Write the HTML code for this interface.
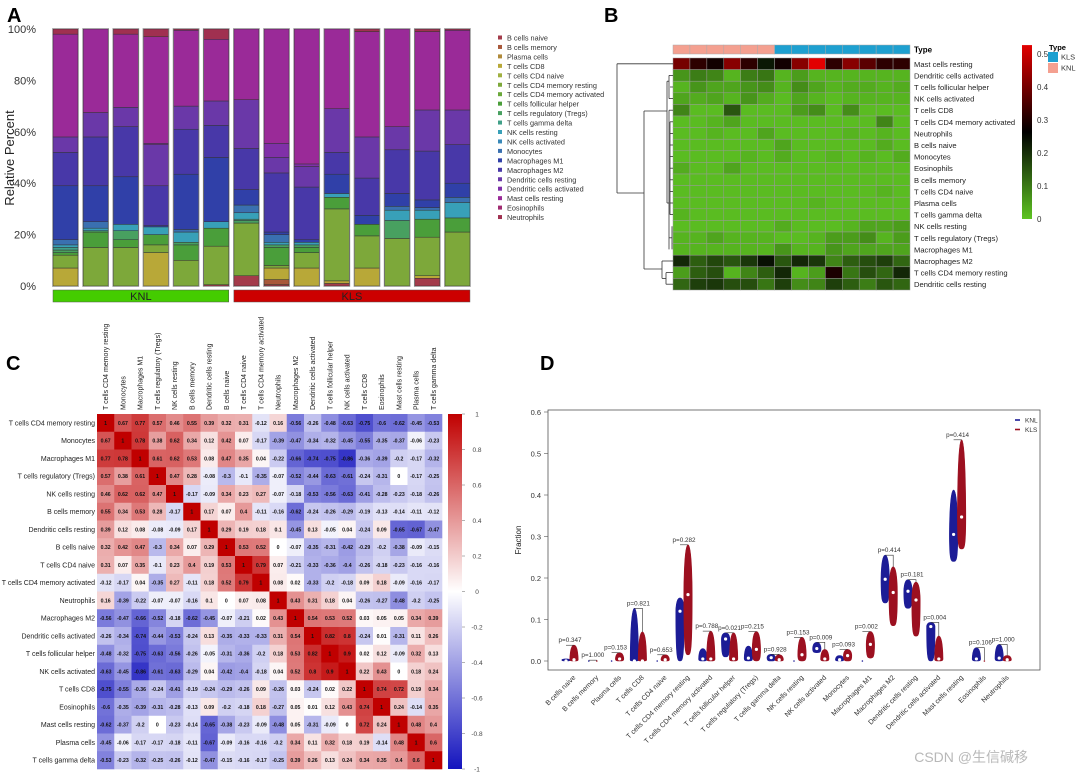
<!DOCTYPE html>
<html><head><meta charset="utf-8"><style>
html,body{margin:0;padding:0;background:#fff;width:1080px;height:774px;overflow:hidden}
svg{display:block;font-family:"Liberation Sans","Noto Sans CJK SC",sans-serif}
</style></head><body>
<svg id="fig" width="1080" height="774" viewBox="0 0 1080 774"></svg>
<script>
// ---------- Panel A data ----------
const cellTypes=["B cells naive","B cells memory","Plasma cells","T cells CD8","T cells CD4 naive","T cells CD4 memory resting","T cells CD4 memory activated","T cells follicular helper","T cells regulatory (Tregs)","T cells gamma delta","NK cells resting","NK cells activated","Monocytes","Macrophages M1","Macrophages M2","Dendritic cells resting","Dendritic cells activated","Mast cells resting","Eosinophils","Neutrophils"];
const cellColors=["#a33b4a","#a8583a","#b08a3a","#b8a838","#a0b040","#7da83a","#6aa83a","#4a9e3a","#48a060","#40a088","#38a0b8","#3888b8","#3a70b0","#3040a8","#4838a8","#6a38a8","#8030a8","#9a2a98","#a02a70","#a03050"];
const aBnaive=[0,0,0,0,0,0.5,4,0.5,0,1,0,0,3,0];
const aBmem=[0,0,0,0,0,0,0,2,0,0,0,0,0,0];
const aPlasma=[0,0,0,0,0,0,0,0,0,0,0,0,0,0];
const aCD8=[7,0,0,13,0,0,0,4.5,7,1,7,0,1,0];
const aCD4n=[0,0,0,0,0,0,0,0,0,0,0,0,0,0];
const aCD4mr=[5,15,15,3,10,15,20.5,1,6,28,12.5,18.5,15,21];
const aCD4ma=[0,0,0,0,0,0,0,0,0,0,0,0,0,0];
const aTfh=[1,6,3,4,6,7,0,7,2,4.5,4.5,0,7,5.5];
const aTregs=[1,0.5,3.5,0,1,0,1,1,1,0,0,7,0,0];
const aGD=[1,0,0,0,0,0,0.5,0,0,0,0,0,0,0];
const aNKr=[1,1,2.5,3,4,2.5,2.5,1,1,1.5,0,4,3.5,6];
const aNKa=[0,0,0,0,0,0,0,0,0,0,0,0,0,0];
const aMono=[2,2.5,0,0,1,0,3,3,0,0,0,1.5,1,2];
const aM1=[21,14,18.5,0.5,21.5,25,6,1,1,7.5,3.5,5,3,5.5];
const aM2=[13,19,19.5,15.5,17.5,12.5,16,23,20.5,8.5,14.5,17,19,15];
const aDCr=[6,9.5,7.5,16,9,9.5,19,6,8,17,16,9,16,13.5];
const aDCa=[0,0,0,0.5,0,0,0,5.5,1,0,0,0,0,0];
const aMast=[40,32.5,28.5,41.5,29.5,24,27.5,44.5,52.5,31,41,38,30.5,31];
const aEos=[0,0,0,0,0,0,0,0,0,0,0,0,0,0];
const aNeut=[2,0,2,3,0.5,4,0,0,0,0,1,0,1,0.5];
const aSeries=[aBnaive,aBmem,aPlasma,aCD8,aCD4n,aCD4mr,aCD4ma,aTfh,aTregs,aGD,aNKr,aNKa,aMono,aM1,aM2,aDCr,aDCa,aMast,aEos,aNeut];
const aTicks=[0,20,40,60,80,100];
const aGroups=["KNL","KNL","KNL","KNL","KNL","KNL","KLS","KLS","KLS","KLS","KLS","KLS","KLS","KLS"];

// ---------- Panel B data ----------
const hmRows=["Mast cells resting","Dendritic cells activated","T cells follicular helper","NK cells activated","T cells CD8","T cells CD4 memory activated","Neutrophils","B cells naive","Monocytes","Eosinophils","B cells memory","T cells CD4 naive","Plasma cells","T cells gamma delta","NK cells resting","T cells regulatory (Tregs)","Macrophages M1","Macrophages M2","T cells CD4 memory resting","Dendritic cells resting"];
const hmTypes=["KNL","KNL","KNL","KNL","KNL","KNL","KLS","KLS","KLS","KLS","KLS","KLS","KLS","KLS"];
const hMast=[0.38,0.3,0.27,0.4,0.3,0.22,0.27,0.4,0.5,0.3,0.4,0.35,0.3,0.3];
const hDCa=[0.06,0.09,0.08,0.02,0.09,0.1,0.02,0.05,0.02,0.02,0.02,0.02,0.02,0.02];
const hTfh=[0.02,0.06,0.04,0.04,0.06,0.07,0.02,0.07,0.04,0.02,0.03,0.03,0.02,0.03];
const hNKa=[0.04,0.03,0.04,0.02,0.06,0.03,0.01,0.04,0.02,0.01,0.02,0.02,0.02,0.02];
const hCD8=[0.08,0.01,0.01,0.14,0.01,0.01,0.01,0.05,0.07,0.01,0.07,0.01,0.01,0.01];
const hCD4ma=[0.01,0.01,0.02,0.04,0.01,0.01,0.01,0.01,0.01,0.01,0.01,0.01,0.08,0.01];
const hNeut=[0.01,0.01,0.02,0.01,0.01,0.04,0.01,0.01,0.01,0.01,0.02,0.01,0.02,0.01];
const hBn=[0.01,0.01,0.01,0.01,0.01,0.01,0.04,0.01,0.01,0.01,0.01,0.01,0.03,0.01];
const hMono=[0.01,0.01,0.01,0.01,0.02,0.01,0.03,0.01,0.01,0.02,0.01,0.02,0.01,0.03];
const hEos=[0.03,0.01,0.01,0.04,0.01,0.01,0.01,0.01,0.01,0.01,0.01,0.01,0.01,0.01];
const hBm=[0.01,0.01,0.01,0.01,0.01,0.01,0.01,0.01,0.01,0.01,0.01,0.01,0.01,0.01];
const hCD4n=[0.01,0.01,0.01,0.01,0.01,0.01,0.01,0.01,0.01,0.01,0.01,0.01,0.02,0.01];
const hPlasma=[0.01,0.01,0.01,0.01,0.01,0.01,0.01,0.01,0.02,0.01,0.01,0.01,0.01,0.01];
const hGD=[0.02,0.01,0.01,0.01,0.01,0.01,0.01,0.01,0.01,0.01,0.01,0.01,0.01,0.01];
const hNKr=[0.01,0.01,0.01,0.01,0.01,0.01,0.03,0.01,0.01,0.01,0.02,0.04,0.04,0.05];
const hTregs=[0.02,0.02,0.04,0.02,0.02,0.02,0.01,0.01,0.02,0.05,0.05,0.07,0.02,0.05];
const hM1=[0.02,0.02,0.02,0.02,0.02,0.02,0.06,0.02,0.02,0.06,0.04,0.04,0.04,0.04];
const hM2=[0.2,0.13,0.16,0.14,0.18,0.23,0.14,0.2,0.18,0.08,0.13,0.15,0.17,0.12];
const hCD4mr=[0.05,0.13,0.15,0.02,0.08,0.13,0.2,0.02,0.05,0.28,0.1,0.15,0.12,0.2];
const hDCr=[0.12,0.17,0.18,0.15,0.15,0.1,0.17,0.07,0.08,0.17,0.13,0.09,0.14,0.12];
const hmValues=[hMast,hDCa,hTfh,hNKa,hCD8,hCD4ma,hNeut,hBn,hMono,hEos,hBm,hCD4n,hPlasma,hGD,hNKr,hTregs,hM1,hM2,hCD4mr,hDCr];
const hmTicks=[0,0.1,0.2,0.3,0.4,0.5];

// ---------- Panel C data ----------
const corrLabels=["T cells CD4 memory resting","Monocytes","Macrophages M1","T cells regulatory (Tregs)","NK cells resting","B cells memory","Dendritic cells resting","B cells naive","T cells CD4 naive","T cells CD4 memory activated","Neutrophils","Macrophages M2","Dendritic cells activated","T cells follicular helper","NK cells activated","T cells CD8","Eosinophils","Mast cells resting","Plasma cells","T cells gamma delta"];
const corr=[
[1,0.67,0.77,0.57,0.46,0.55,0.39,0.32,0.31,-0.12,0.16,-0.56,-0.26,-0.48,-0.63,-0.75,-0.6,-0.62,-0.45,-0.53],
[0.67,1,0.78,0.38,0.62,0.34,0.12,0.42,0.07,-0.17,-0.39,-0.47,-0.34,-0.32,-0.45,-0.55,-0.35,-0.37,-0.06,-0.23],
[0.77,0.78,1,0.61,0.62,0.53,0.08,0.47,0.35,0.04,-0.22,-0.66,-0.74,-0.75,-0.86,-0.36,-0.39,-0.2,-0.17,-0.32],
[0.57,0.38,0.61,1,0.47,0.28,-0.08,-0.3,-0.1,-0.35,-0.07,-0.52,-0.44,-0.63,-0.61,-0.24,-0.31,0,-0.17,-0.25],
[0.46,0.62,0.62,0.47,1,-0.17,-0.09,0.34,0.23,0.27,-0.07,-0.18,-0.53,-0.56,-0.63,-0.41,-0.28,-0.23,-0.18,-0.26],
[0.55,0.34,0.53,0.28,-0.17,1,0.17,0.07,0.4,-0.11,-0.16,-0.62,-0.24,-0.26,-0.29,-0.19,-0.13,-0.14,-0.11,-0.12],
[0.39,0.12,0.08,-0.08,-0.09,0.17,1,0.29,0.19,0.18,0.1,-0.45,0.13,-0.05,0.04,-0.24,0.09,-0.65,-0.67,-0.47],
[0.32,0.42,0.47,-0.3,0.34,0.07,0.29,1,0.53,0.52,0,-0.07,-0.35,-0.31,-0.42,-0.29,-0.2,-0.38,-0.09,-0.15],
[0.31,0.07,0.35,-0.1,0.23,0.4,0.19,0.53,1,0.79,0.07,-0.21,-0.33,-0.36,-0.4,-0.26,-0.18,-0.23,-0.16,-0.16],
[-0.12,-0.17,0.04,-0.35,0.27,-0.11,0.18,0.52,0.79,1,0.08,0.02,-0.33,-0.2,-0.18,0.09,0.18,-0.09,-0.16,-0.17],
[0.16,-0.39,-0.22,-0.07,-0.07,-0.16,0.1,0,0.07,0.08,1,0.43,0.31,0.18,0.04,-0.26,-0.27,-0.48,-0.2,-0.25],
[-0.56,-0.47,-0.66,-0.52,-0.18,-0.62,-0.45,-0.07,-0.21,0.02,0.43,1,0.54,0.53,0.52,0.03,0.05,0.05,0.34,0.39],
[-0.26,-0.34,-0.74,-0.44,-0.53,-0.24,0.13,-0.35,-0.33,-0.33,0.31,0.54,1,0.82,0.8,-0.24,0.01,-0.31,0.11,0.26],
[-0.48,-0.32,-0.75,-0.63,-0.56,-0.26,-0.05,-0.31,-0.36,-0.2,0.18,0.53,0.82,1,0.9,0.02,0.12,-0.09,0.32,0.13],
[-0.63,-0.45,-0.86,-0.61,-0.63,-0.29,0.04,-0.42,-0.4,-0.18,0.04,0.52,0.8,0.9,1,0.22,0.43,0,0.18,0.24],
[-0.75,-0.55,-0.36,-0.24,-0.41,-0.19,-0.24,-0.29,-0.26,0.09,-0.26,0.03,-0.24,0.02,0.22,1,0.74,0.72,0.19,0.34],
[-0.6,-0.35,-0.39,-0.31,-0.28,-0.13,0.09,-0.2,-0.18,0.18,-0.27,0.05,0.01,0.12,0.43,0.74,1,0.24,-0.14,0.35],
[-0.62,-0.37,-0.2,0,-0.23,-0.14,-0.65,-0.38,-0.23,-0.09,-0.48,0.05,-0.31,-0.09,0,0.72,0.24,1,0.48,0.4],
[-0.45,-0.06,-0.17,-0.17,-0.18,-0.11,-0.67,-0.09,-0.16,-0.16,-0.2,0.34,0.11,0.32,0.18,0.19,-0.14,0.48,1,0.6],
[-0.53,-0.23,-0.32,-0.25,-0.26,-0.12,-0.47,-0.15,-0.16,-0.17,-0.25,0.39,0.26,0.13,0.24,0.34,0.35,0.4,0.6,1]];
const corrTicks=[1,0.8,0.6,0.4,0.2,0,-0.2,-0.4,-0.6,-0.8,-1];

// ---------- Panel D data ----------
const vCats=cellTypes;
const knlMin=[0,0,0,0,0,0,0,0.01,0,0,0,0.02,0,0,0.14,0.127,0,0.24,0,0];
const knlMax=[0.005,0.002,0.002,0.127,0.002,0.152,0.03,0.068,0.036,0.016,0.002,0.045,0.013,0.002,0.255,0.196,0.093,0.412,0.032,0.04];
const knlMed=[0,0,0,0,0,0.12,0.005,0.053,0.007,0.008,0,0.03,0.003,0,0.197,0.168,0.083,0.305,0.005,0.007];
const klsMin=[0,0,0,0,0,0.015,0,0,0,0,0,0,0,0.007,0.085,0.06,0,0.27,0,0];
const klsMax=[0.038,0.002,0.02,0.07,0.015,0.28,0.072,0.068,0.071,0.015,0.057,0.028,0.028,0.071,0.227,0.19,0.06,0.533,0.002,0.013];
const klsMed=[0.003,0,0.005,0,0.003,0.16,0.005,0.005,0.028,0.003,0.015,0.005,0.013,0.04,0.165,0.147,0.005,0.347,0,0.003];
const pVals=["0.347","1.000","0.153","0.821","0.653","0.282","0.788","0.021","0.215","0.928","0.153","0.009","0.093","0.002","0.414","0.181","0.004","0.414","0.106","1.000"];
const dTicks=[0,0.1,0.2,0.3,0.4,0.5,0.6];

const NS="http://www.w3.org/2000/svg";
const svg=document.getElementById('fig');
function mk(tag,attrs,parent){const e=document.createElementNS(NS,tag);for(const k in attrs)e.setAttribute(k,attrs[k]);(parent||svg).appendChild(e);return e;}
function txt(s,attrs,parent){const e=mk('text',attrs,parent);e.textContent=s;return e;}

// ================= PANEL A =================
const gA=mk('g',{});


let t=txt('A',{x:7,y:22,'font-size':20,'font-weight':'bold'},gA);


const yA=v=>286-v*2.57;
const xA=i=>53+i*30.15;
aTicks.forEach(v=>{
  const l=txt(v+'%',{x:36,y:yA(v)+4,'font-size':11,'text-anchor':'end',fill:'#333'},gA);
  
  
});
t=txt('Relative Percent',{x:14,y:158,'font-size':13,'text-anchor':'middle',fill:'#222',transform:'rotate(-90 14 158)'},gA);


for(let i=0;i<14;i++){
  const bg=mk('g',{},gA);
  
  
  let cum=0;
  aSeries.forEach((s,k)=>{
    const v=s[i]; if(v<=0) return;
    const r=mk('rect',{x:xA(i),y:yA(cum+v),width:25,height:v*2.57,fill:cellColors[k],stroke:'#333','stroke-width':0.5},bg);
    
    
    cum+=v;
  });
  const o=mk('rect',{x:xA(i)-0.5,y:yA(100)-0.5,width:26,height:257+1,fill:'none',stroke:'#999','stroke-width':0.7},bg);
  
  
}
// group bars
[['KNL',0,5,'#44cc00'],['KLS',6,13,'#cc0000']].forEach(g=>{
  const x1=xA(g[1]),x2=xA(g[2])+25;
  const r=mk('rect',{x:x1,y:290,width:x2-x1,height:12,fill:g[3],stroke:'#555','stroke-width':0.5},gA);
  
  
  const l=txt(g[0],{x:(x1+x2)/2,y:300,'font-size':11,'text-anchor':'middle',fill:'#222'},gA);
  
  
});
cellTypes.forEach((c,k)=>{
  const lg=mk('g',{},gA);
  
  
  const y=38+k*9.45;
  mk('rect',{x:498,y:y-2.5,width:4,height:4,fill:cellColors[k]},lg);
  txt(c,{x:507,y:y+2.5,'font-size':7.3,fill:'#333'},lg);
});

// ================= PANEL B =================
const gB=mk('g',{});


t=txt('B',{x:604,y:22,'font-size':20,'font-weight':'bold'},gB);


const hx0=673,hcw=(910-673)/14,hy0=58,hrh=(290-58)/20;
function hmColor(v){
  v=Math.max(0,Math.min(0.5,v));
  const lo=[94,196,34],mid=[0,0,0],hi=[226,0,0];
  let a,b,f;
  if(v<=0.25){a=lo;b=mid;f=v/0.25;}else{a=mid;b=hi;f=(v-0.25)/0.25;}
  return 'rgb('+a.map((c,i)=>Math.round(c+(b[i]-c)*f)).join(',')+')';
}
hmTypes.forEach((ty,j)=>{
  const r=mk('rect',{x:hx0+j*hcw,y:45,width:hcw,height:9,fill:ty==='KNL'?'#f4a090':'#1ea0d0',stroke:'#aaa','stroke-width':0.5},gB);
  
  
});
t=txt('Type',{x:914,y:52.5,'font-size':8,'font-weight':'bold'},gB);


hmValues.forEach((row,i)=>{
  row.forEach((v,j)=>{
    const r=mk('rect',{x:hx0+j*hcw,y:hy0+i*hrh,width:hcw,height:hrh,fill:hmColor(v),stroke:'#999','stroke-width':0.5},gB);
    
    
  });
  const l=txt(hmRows[i],{x:914,y:hy0+i*hrh+hrh/2+3,'font-size':7.6,fill:'#222'},gB);
  
  
});
// dendrogram
const dend=mk('g',{stroke:'#333','stroke-width':0.8,fill:'none'},gB);


const ry=i=>hy0+i*hrh+hrh/2;
const dl=[
 [617,ry(0),673,ry(0)],[617,ry(0),617,193],[617,193,644,193],[644,111,644,269],
 [644,111,667,111],[667,ry(1.5),667,ry(12)],[667,ry(1.5),669,ry(1.5)],[669,ry(1),669,ry(3)],[669,ry(1),673,ry(1)],[669,ry(3),673,ry(3)],
 [670,ry(2),673,ry(2)],[667,ry(12),669,ry(12)],[669,ry(4),669,ry(16)],[669,ry(4),673,ry(4)],
 [670,ry(5),670,ry(13)],[670,ry(5),673,ry(5)],[670,ry(13),673,ry(13)],[669,ry(15),672,ry(15)],[672,ry(14),672,ry(16)],
 [644,269,662,269],[662,ry(17),662,ry(18.5)],[662,ry(17),673,ry(17)],[662,ry(18.5),666,ry(18.5)],[666,ry(18),666,ry(19)],[666,ry(18),673,ry(18)],[666,ry(19),673,ry(19)]
];
dl.forEach(d=>mk('line',{x1:d[0],y1:d[1],x2:d[2],y2:d[3]},dend));
for(let i=6;i<=12;i++) mk('line',{x1:670,y1:ry(i),x2:673,y2:ry(i)},dend);
// colorbar
const defs=mk('defs',{});
const lgB=mk('linearGradient',{id:'gB',x1:0,y1:1,x2:0,y2:0},defs);
[[0,0],[0.25,0.5],[0.5,1]].forEach(s=>mk('stop',{offset:s[1],'stop-color':hmColor(s[0])},lgB));
const yB=v=>219-v*330;
t=mk('rect',{x:1022,y:yB(0.527),width:10,height:yB(0)-yB(0.527),fill:'url(#gB)'},gB);


hmTicks.forEach(v=>{
  const l=txt(String(v),{x:1037,y:yB(v)+3,'font-size':8,fill:'#333'},gB);
  
  
});
t=txt('Type',{x:1049,y:50,'font-size':7.5,'font-weight':'bold'},gB);


[['KLS','#1ea0d0',52],['KNL','#f4a090',63]].forEach(e=>{
  const g=mk('g',{},gB);
  
  
  mk('rect',{x:1048,y:e[2],width:10,height:10,fill:e[1]},g);
  txt(e[0],{x:1061,y:e[2]+7.5,'font-size':7.5,fill:'#333'},g);
});

// ================= PANEL C =================
const gC=mk('g',{});


t=txt('C',{x:6,y:370,'font-size':20,'font-weight':'bold'},gC);


const cx0=97,ccw=(442-97)/20,cy0=414,crh=(769-414)/20;
function corrColor(v){
  const w=[255,255,255];
  const c=v>=0?[192,0,0]:[20,20,190];
  const f=Math.min(1,Math.abs(v));
  return 'rgb('+w.map((x,i)=>Math.round(x+(c[i]-x)*f)).join(',')+')';
}
corr.forEach((row,i)=>{
  row.forEach((v,j)=>{
    const r=mk('rect',{x:cx0+j*ccw,y:cy0+i*crh,width:ccw+0.3,height:crh+0.3,fill:corrColor(v)},gC);
    
    
    const l=txt(String(v),{x:cx0+j*ccw+ccw/2,y:cy0+i*crh+crh/2+2,'font-size':5.2,'font-weight':'bold','text-anchor':'middle',fill:'#111'},gC);
    
    
  });
  const l=txt(corrLabels[i],{x:95,y:cy0+i*crh+crh/2+2.5,'font-size':7,'text-anchor':'end',fill:'#222'},gC);
  
  
  const cxl=cx0+i*ccw+ccw/2+2.5;
  const c=txt(corrLabels[i],{x:cxl,y:410,'font-size':7,fill:'#222',transform:'rotate(-90 '+cxl+' 410)'},gC);
  
  
});
const lgC=mk('linearGradient',{id:'gC',x1:0,y1:1,x2:0,y2:0},defs);
[[-1,0],[0,0.5],[1,1]].forEach(s=>mk('stop',{offset:s[1],'stop-color':corrColor(s[0])},lgC));
const yC=v=>591.5-v*177.5;
t=mk('rect',{x:448,y:yC(1),width:14,height:yC(-1)-yC(1),fill:'url(#gC)'},gC);


corrTicks.forEach(v=>{
  mk('line',{x1:462,y1:yC(v),x2:465,y2:yC(v),stroke:'#666','stroke-width':0.5},gC);
  const l=txt(String(v),{x:477,y:yC(v)+2.5,'font-size':6.5,'text-anchor':'middle',fill:'#444'},gC);
  
  
});

// ================= PANEL D =================
const gD=mk('g',{});


t=txt('D',{x:540,y:370,'font-size':20,'font-weight':'bold'},gD);


const yD=v=>661-v*415;
const xD=i=>570+i*22.8;
t=mk('rect',{x:548,y:410,width:492,height:260,fill:'none',stroke:'#555','stroke-width':0.8},gD);


dTicks.forEach(v=>{
  mk('line',{x1:544,y1:yD(v),x2:548,y2:yD(v),stroke:'#555','stroke-width':0.6},gD);
  const l=txt(v.toFixed(1),{x:541,y:yD(v)+3,'font-size':7.5,'text-anchor':'end',fill:'#333'},gD);
  
  
});
t=txt('Fraction',{x:521,y:540,'font-size':8,'text-anchor':'middle',fill:'#222',transform:'rotate(-90 521 540)'},gD);


function violin(cx,mn,mx,md,col,parent,name){
  const w=4.2;
  const y1=yD(mn),y2=yD(mx),ym=yD(md);
  if(y1-y2<1.2){
    const d=mk('circle',{cx:cx,cy:ym,r:0.8,fill:col},parent);
    
    
    return;
  }
  const ymid=Math.min(y1-1,Math.max(y2+1,ym));
  const p='M'+cx+','+y2+' C'+(cx+w)+','+y2+' '+(cx+w)+','+ymid+' '+(cx+w)+','+ymid+' C'+(cx+w)+','+y1+' '+(cx+w*0.6)+','+y1+' '+cx+','+y1+
    ' C'+(cx-w*0.6)+','+y1+' '+(cx-w)+','+y1+' '+(cx-w)+','+ymid+' C'+(cx-w)+','+ymid+' '+(cx-w)+','+y2+' '+cx+','+y2+'Z';
  const v=mk('path',{d:p,fill:col,stroke:col,'stroke-width':0.6},parent);
  
  
  const m=mk('circle',{cx:cx,cy:ym,r:1.6,fill:'#fff'},parent);
  
  
}
vCats.forEach((c,i)=>{
  const g=mk('g',{},gD);
  
  
  const xc=xD(i);
  violin(xc-4,knlMin[i],knlMax[i],knlMed[i],'#1c1c96',g,'violin-knl');
  violin(xc+4,klsMin[i],klsMax[i],klsMed[i],'#9c1020',g,'violin-kls');
  const top=Math.max(knlMax[i],klsMax[i]);
  const yb=yD(top);
  mk('polyline',{points:(xc-4)+','+yb+' '+(xc+4)+','+yb+' '+(xc+4)+','+(yD(klsMax[i])),fill:'none',stroke:'#333','stroke-width':0.6},g);
  const p=txt('p='+pVals[i],{x:xc,y:yb-3,'font-size':6.3,'text-anchor':'middle',fill:'#333'},g);
  
  
  const lx=xc+6,ly=678;
  const l=txt(c,{x:lx,y:ly,'font-size':7,'text-anchor':'end',fill:'#333',transform:'rotate(-45 '+lx+' '+ly+')'},gD);
  
  
});
[['KNL','#1c1c96',420],['KLS','#9c1020',429.5]].forEach(e=>{
  const g=mk('g',{},gD);
  
  
  mk('line',{x1:1015,y1:e[2],x2:1020,y2:e[2],stroke:e[1],'stroke-width':1.6},g);
  txt(e[0],{x:1025,y:e[2]+2.5,'font-size':6.5,fill:'#333'},g);
});
t=txt('CSDN @生信碱移',{x:1028,y:762,'font-size':14,'text-anchor':'end',fill:'#b8b8b8'},svg);


</script>
</body></html>
